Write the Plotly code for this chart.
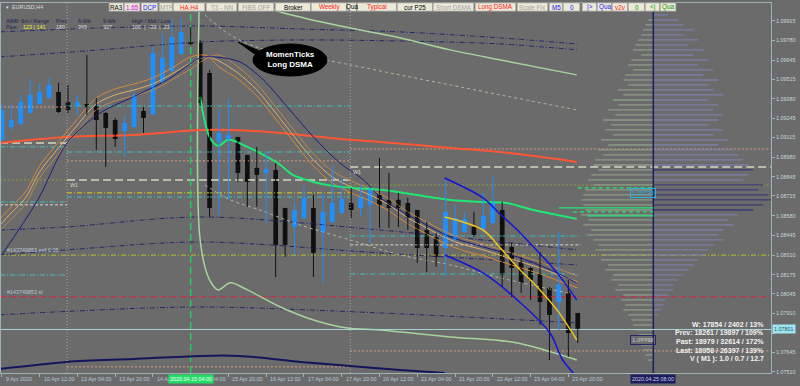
import plotly.graph_objects as go

# ---------------- data ----------------
time_labels = ["9 Apr 2020", "10 Apr 12:00", "13 Apr 04:00", "13 Apr 20:00", "14 Apr 12:00",
               "15 Apr 04:00", "15 Apr 20:00", "16 Apr 12:00", "17 Apr 04:00", "17 Apr 20:00",
               "20 Apr 12:00", "21 Apr 04:00", "21 Apr 20:00", "22 Apr 12:00", "23 Apr 04:00",
               "23 Apr 20:00"]
label_bars = list(range(0, 61, 4))

price_ticks = [1.09915, 1.09780, 1.09645, 1.09515, 1.09380, 1.09245, 1.09115, 1.08980,
               1.08845, 1.08715, 1.08580, 1.08445, 1.08310, 1.08175, 1.08045, 1.07910,
               1.07775, 1.07645, 1.07510]

opens = [1.09099, 1.09187, 1.09208, 1.09283, 1.09345, 1.09386, 1.09427, 1.09358, 1.09331, 1.09345,
         1.09331, 1.09283, 1.09235, 1.09160, 1.09187, 1.09297, 1.09275, 1.09496, 1.09571, 1.09687,
         1.09763, 1.09763, 1.09557, 1.09085, 1.09099, 1.09119, 1.08996, 1.08907, 1.08873, 1.08893,
         1.08633, 1.08503, 1.08564, 1.08633, 1.08469, 1.08537, 1.08599, 1.08667, 1.08633, 1.08654,
         1.08722, 1.08688, 1.08688, 1.08667, 1.08619, 1.08482, 1.08434, 1.08359, 1.08414, 1.08469,
         1.08503, 1.08489, 1.08530, 1.08619, 1.08366, 1.08264, 1.08222, 1.08188, 1.08085, 1.07989,
         1.08051, 1.07914]
highs = [1.09338, 1.09338, 1.09406, 1.09516, 1.09489, 1.09523, 1.09489, 1.09475, 1.09406, 1.09680,
         1.09386, 1.09290, 1.09249, 1.09270, 1.09427, 1.09324, 1.09735, 1.09831, 1.09920, 1.09934,
         1.09872, 1.09783, 1.09578, 1.09304, 1.09386, 1.09119, 1.08996, 1.09051, 1.09016, 1.08941,
         1.08633, 1.08674, 1.08784, 1.08722, 1.08736, 1.08927, 1.08838, 1.08770, 1.08791, 1.08777,
         1.08975, 1.08873, 1.08736, 1.08702, 1.08619, 1.08537, 1.08462, 1.08825, 1.08654, 1.08606,
         1.08606, 1.08736, 1.08845, 1.08674, 1.08393, 1.08298, 1.08229, 1.08332, 1.08092, 1.08469,
         1.08140, 1.07914]
lows = [1.09085, 1.09167, 1.09201, 1.09276, 1.09338, 1.09380, 1.09283, 1.09283, 1.09270, 1.09270,
        1.09030, 1.08914, 1.09051, 1.08982, 1.09181, 1.09146, 1.09265, 1.09489, 1.09564, 1.09680,
        1.09749, 1.09331, 1.08571, 1.08585, 1.08688, 1.08811, 1.08640, 1.08640, 1.08530, 1.08160,
        1.08298, 1.08311, 1.08557, 1.08160, 1.08119, 1.08530, 1.08592, 1.08564, 1.08571, 1.08393,
        1.08496, 1.08496, 1.08503, 1.08482, 1.08257, 1.08195, 1.08229, 1.08160, 1.08400, 1.08462,
        1.08434, 1.08462, 1.08523, 1.08092, 1.08023, 1.08051, 1.08003, 1.07832, 1.07592, 1.07798,
        1.07613, 1.07709]
closes = [1.09304, 1.09235, 1.09358, 1.09406, 1.09427, 1.09475, 1.09290, 1.09304, 1.09358, 1.09324,
          1.09235, 1.09181, 1.09105, 1.09215, 1.09406, 1.09249, 1.09694, 1.09660, 1.09804, 1.09838,
          1.09756, 1.09352, 1.08633, 1.09146, 1.09133, 1.08873, 1.08811, 1.08859, 1.08900, 1.08380,
          1.08380, 1.08619, 1.08701, 1.08325, 1.08606, 1.08667, 1.08695, 1.08619, 1.08708, 1.08770,
          1.08654, 1.08633, 1.08633, 1.08564, 1.08359, 1.08359, 1.08298, 1.08606, 1.08564, 1.08558,
          1.08448, 1.08578, 1.08674, 1.08174, 1.08222, 1.08120, 1.08140, 1.07989, 1.07900, 1.08106,
          1.07777, 1.07801]

# moving-average bundle (Long DSMA family)
bundle_x = [-0.2, 1, 2.5, 4, 6, 8, 10, 12, 14, 16, 18, 20, 21.7, 23, 25, 27, 29, 31, 33, 35, 37,
            39, 41, 43, 45, 47, 49, 51, 53, 55, 57, 59, 61]
ma_fast = [1.08558, 1.08640, 1.08743, 1.08921, 1.09085, 1.09242, 1.09386, 1.09448, 1.09482, 1.09523,
           1.09591, 1.09667, 1.09677, 1.09598, 1.09516, 1.09400, 1.09242, 1.09078, 1.08921, 1.08804,
           1.08736, 1.08681, 1.08613, 1.08524, 1.08455, 1.08387, 1.08339, 1.08305, 1.08263, 1.08222,
           1.08181, 1.08133, 1.08085]
ma_mid = [1.08517, 1.08599, 1.08702, 1.08880, 1.09044, 1.09201, 1.09345, 1.09407, 1.09441, 1.09482,
          1.09550, 1.09626, 1.09667, 1.09639, 1.09557, 1.09441, 1.09283, 1.09119, 1.08962, 1.08845,
          1.08777, 1.08722, 1.08654, 1.08565, 1.08496, 1.08428, 1.08380, 1.08346, 1.08304, 1.08263,
          1.08222, 1.08174, 1.08126]
ma_slow = [1.08476, 1.08558, 1.08661, 1.08839, 1.09003, 1.09160, 1.09304, 1.09366, 1.09400, 1.09441,
           1.09509, 1.09585, 1.09657, 1.09680, 1.09598, 1.09482, 1.09324, 1.09160, 1.09003, 1.08886,
           1.08818, 1.08763, 1.08695, 1.08606, 1.08537, 1.08469, 1.08421, 1.08387, 1.08345, 1.08304,
           1.08263, 1.08215, 1.08167]

navy_ma_x = [-0.02, 3.8, 6.9, 10.4, 13.9, 17.5, 21.0, 22.4, 25.2, 27.7, 30.5, 33.0, 35.8, 38.3,
             40.4, 44.0, 47.5, 51.0, 54.6, 58.1, 60.9]
navy_ma = [1.08311, 1.08688, 1.09078, 1.09283, 1.09393, 1.09509, 1.09660, 1.09667, 1.09633, 1.09509,
           1.09304, 1.09119, 1.08941, 1.08825, 1.08688, 1.08551, 1.08435, 1.08366, 1.08298, 1.08209,
           1.08120]

red_ma_x = [-0.2, 6.9, 13.9, 21.0, 24.5, 29.5, 36.9, 40.05, 47.5, 52.8, 60.9]
red_ma = [1.09078, 1.09119, 1.09133, 1.09167, 1.09167, 1.09146, 1.09099, 1.09085, 1.09044, 1.09016,
          1.08948]

green_ma_x = [21.0, 22.0, 22.9, 24.0, 26.0, 28.1, 29.5, 30.8, 33.0, 35.1, 37.2, 40.4, 44.0, 47.5,
              51.0, 53.5, 56.3, 59.9, 60.9]
green_ma = [1.09393, 1.09119, 1.09058, 1.09099, 1.09051, 1.08982, 1.08927, 1.08859, 1.08811, 1.08784,
            1.08770, 1.08756, 1.08722, 1.08688, 1.08674, 1.08667, 1.08619, 1.08571, 1.08558]

env_up_x = [21.0, 24.0, 27.1, 31.6, 36.9, 42.2, 47.5, 52.8, 60.9]
env_up = [1.10700, 1.10330, 1.10036, 1.09940, 1.09865, 1.09797, 1.09715, 1.09646, 1.09544]
env_lo_x = [20.9, 21.0, 22.0, 22.9, 24.2, 26.0, 29.5, 33.0, 36.6, 40.05, 47.5, 54.6, 59.9, 60.9]
env_lo = [1.10036, 1.08414, 1.08140, 1.08072, 1.08120, 1.08072, 1.07955, 1.07866, 1.07811, 1.07798,
          1.07750, 1.07709, 1.07613, 1.07592]

env_in_up_x = [21.5, 24.2, 27.3, 31.6, 36.9, 42.2, 47.5, 52.8, 60.9]
env_in_up = [1.09954, 1.09817, 1.09728, 1.09680, 1.09612, 1.09543, 1.09475, 1.09407, 1.09304]
env_in_lo_x = [21.5, 24.2, 27.3, 31.6, 36.9, 42.2, 47.5, 52.8, 60.9]
env_in_lo = [1.08791, 1.08688, 1.08619, 1.08516, 1.08414, 1.08311, 1.08243, 1.08154, 1.08037]

reg_x = [46.9, 50.96, 52.8, 54.6, 56.7, 58.8, 60.9]
reg_up = [1.08838, 1.08702, 1.08590, 1.08482, 1.08340, 1.08190, 1.08003]
reg_mid = [1.08571, 1.08482, 1.08359, 1.08229, 1.08092, 1.07935, 1.07729]
reg_lo_x = [46.9, 50.96, 54.6, 58.06, 59.4, 60.5, 61.2]
reg_lo = [1.08311, 1.08188, 1.08003, 1.07777, 1.07592, 1.07503, 1.07420]

navy_dd_x = [-0.2, 6.9, 21.0, 40.05, 60.9]
navy_dd1 = [1.08482, 1.08503, 1.08571, 1.08482, 1.08346]
navy_dd2 = [1.08311, 1.08346, 1.08400, 1.08325, 1.08243]
navy_dd3 = [1.07901, 1.07925, 1.07955, 1.07914, 1.07846]
navy_top_x = [-0.2, 10.4, 21.0, 31.6, 42.2, 52.8, 60.9]
navy_top1 = [1.09838, 1.09865, 1.09879, 1.09858, 1.09838, 1.09797, 1.09756]
navy_top2 = [1.09667, 1.09715, 1.09769, 1.09783, 1.09776, 1.09756, 1.09715]

bottom_curve_x = [-0.2, 6.9, 13.9, 21.0, 25.2, 31.6, 36.9, 42.2, 46.9]
bottom_curve = [1.07531, 1.07579, 1.07599, 1.07620, 1.07620, 1.07579, 1.07551, 1.07524, 1.07503]

week_breaks = [-0.2, 6.9, 36.9, 81.5]
# weekly pivot levels per week segment: (segment index, price, kind)
pivot_levels = [
    (0, 1.09324, "salmon"), (0, 1.09078, "w1"), (0, 1.09051, "cyan"), (0, 1.08825, "olive"),
    (0, 1.08674, "cyan"), (0, 1.08654, "cream"), (0, 1.08174, "cyan"),
    (1, 1.09331, "cyan"), (1, 1.09016, "cyan"), (1, 1.08955, "salmon"), (1, 1.08825, "w1"),
    (1, 1.08736, "yellow"), (1, 1.08708, "cyan"), (1, 1.07545, "salmon"),
    (2, 1.09037, "salmon"), (2, 1.08914, "w1"), (2, 1.08790, "olive"), (2, 1.07654, "salmon"),
]
short_levels = [(1.08441, "cyan"), (1.08380, "cream"), (1.08181, "cyan")]
order_price = 1.08310
sl_price = 1.08025
current_price = 1.07801
signal_bar = 20

proj_levels = [(1.08770, "dash", 61.0), (1.08633, "solid", 59.0), (1.08606, "dash", 60.5),
               (1.08578, "solid", 62.0)]

# volume profile (price levels, volume left = buy side, right = sell side)
profile_anchor = 69
profile_levels = [1.09954, 1.09920, 1.09886, 1.09852, 1.09817, 1.09783, 1.09749, 1.09715, 1.09680,
                  1.09646, 1.09612, 1.09578, 1.09543, 1.09509, 1.09475, 1.09441, 1.09407, 1.09372,
                  1.09338, 1.09304, 1.09270, 1.09235, 1.09201, 1.09167, 1.09133, 1.09099, 1.09064,
                  1.09030, 1.08996, 1.08962, 1.08927, 1.08893, 1.08859, 1.08825, 1.08791, 1.08756,
                  1.08722, 1.08688, 1.08654, 1.08619, 1.08585, 1.08551, 1.08517, 1.08482, 1.08448,
                  1.08414, 1.08380, 1.08346, 1.08311, 1.08277, 1.08243, 1.08209, 1.08174, 1.08140,
                  1.08106, 1.08072, 1.08037, 1.08003, 1.07969, 1.07935, 1.07901, 1.07866, 1.07832,
                  1.07798, 1.07764, 1.07729, 1.07695, 1.07661, 1.07627, 1.07592]
vol_left = [0, 5, 8, 10, 12, 15, 18, 20, 12, 22, 25, 20, 28, 30, 25, 35, 30, 40, 35, 45, 38, 50, 42,
            48, 40, 52, 45, 55, 50, 58, 60, 55, 62, 65, 60, 68, 70, 72, 70, 68, 72, 65, 70, 62, 66,
            60, 55, 58, 50, 52, 45, 48, 40, 42, 35, 38, 30, 32, 28, 30, 25, 22, 20, 18, 15, 14, 12,
            10, 8, 5]
vol_right = [15, 25, 30, 40, 30, 45, 35, 50, 40, 55, 45, 60, 50, 65, 55, 60, 70, 55, 65, 60, 70, 65,
             55, 70, 60, 75, 65, 80, 85, 90, 95, 100, 95, 90, 110, 105, 115, 118, 110, 100, 85, 75,
             80, 70, 65, 70, 60, 55, 50, 45, 40, 35, 30, 25, 20, 20, 15, 12, 10, 8, 5, 0, 0, 0, 0,
             0, 0, 0, 0, 0]
VOL_SCALE = 1 / 9.44

info_bottom = ["W: 17854 / 2402 / 13%", "Prev: 18261 / 19897 / 109%",
               "Past: 18979 / 32614 / 172%", "Last: 18958 / 26397 / 139%",
               "V ( M1 ): 1.0 / 0.7 / 12.7"]

buttons = [("RA3", 109, 124, "#000000"), ("1.65", 124, 140, "#e000e0"), ("DCP", 141, 158, "#2020ff"),
           ("MTF", 159, 173, "#a0a0a0"), ("HA H4", 173, 205, "#ff2020"), ("T3 - NN", 206, 237, "#a0a0a0"),
           ("FIBS OFF", 238, 274, "#a0a0a0"), ("Broker", 275, 311, "#000000"),
           ("Weekly", 311, 347, "#ff2020"), ("Qua", 347, 357, "#000000"), ("Typical", 357, 397, "#ff2020"),
           ("cur P25", 397, 433, "#000000"), ("Short DSMA", 433, 474, "#a0a0a0"),
           ("Long DSMA", 475, 516, "#ff2020"), ("Scale Fix", 517, 548, "#a0a0a0"),
           ("M5", 549, 563, "#2020ff"), ("0", 563, 580, "#2020ff"), ("|>", 582, 597, "#2020ff"),
           ("Qua", 597, 612, "#2020ff"), ("v2v", 612, 628, "#ff2020"), ("0", 628, 645, "#00a000"),
           ("<|", 645, 660, "#00a000"), ("Qua", 660, 676, "#00a000")]

# ---------------- figure ----------------
BG = "#6b6b6b"
FONT = "Liberation Sans, Arial, sans-serif"
X0, X1 = -0.095, 81.47
Y0, Y1 = 1.07503, 1.10036
ML, MR, MT, MB = 1, 29, 3, 13
PW, PH = 800 - ML - MR, 386 - MT - MB


def pxp(x):
    return (x - ML) / PW


def pyp(y):
    return (MT + PH - y) / PH


fig = go.Figure()


def add_line(xs, ys, color, width=1.0, dash="solid", shape="linear"):
    fig.add_trace(go.Scatter(x=xs, y=ys, mode="lines", hoverinfo="skip",
                             line=dict(color=color, width=width, dash=dash, shape=shape,
                                       smoothing=0.9)))


DASHDOT = "5px,2px,1px,2px"
DOT = "2px,2px"
LEVEL_STYLE = {"salmon": ("#d99a80", DOT, 1), "cyan": ("#3fc0c0", DASHDOT, 1),
               "olive": ("#8aa040", DOT, 1), "cream": ("#d8d8c8", "3px,2px", 1),
               "w1": ("#d6d6c0", "8px,4px", 1.5), "yellow": ("#d8d020", DASHDOT, 1)}

# week separators
for xb in week_breaks[1:3]:
    add_line([xb, xb], [Y0, Y1], "#a8a8a8", 1, "1px,2px")

# pivots
for seg, p, kind in pivot_levels:
    c, d, w = LEVEL_STYLE[kind]
    add_line([week_breaks[seg], week_breaks[seg + 1]], [p, p], c, w, d)
for p, kind in short_levels:
    c, d, w = LEVEL_STYLE[kind]
    add_line([week_breaks[2], 61.3], [p, p], c, w, d)
add_line([X0, X1], [order_price, order_price], "#a8b040", 1.2, DASHDOT)
add_line([X0, X1], [sl_price, sl_price], "#e0203c", 1.2, DASHDOT)

# navy dash-dot channels
for arr in (navy_dd1, navy_dd2, navy_dd3):
    add_line(navy_dd_x, arr, "#26266a", 1, DASHDOT, "spline")
for arr in (navy_top1, navy_top2):
    add_line(navy_top_x, arr, "#26266a", 1, DASHDOT, "spline")

# envelopes
add_line(env_in_up_x, env_in_up, "#a8bc9c", 1, "3px,3px", "spline")
add_line(env_in_lo_x, env_in_lo, "#a8bc9c", 1, "3px,3px", "spline")
add_line(env_up_x, env_up, "#a8d49c", 1.5, "solid", "spline")
add_line(env_lo_x, env_lo, "#a8d49c", 1.5, "solid", "spline")

# volume profile
for p, vl, vr in zip(profile_levels, vol_left, vol_right):
    if vl > 0:
        add_line([profile_anchor - vl * VOL_SCALE, profile_anchor], [p, p], "#8d9c86", 1.3)
    if vr > 0:
        add_line([profile_anchor, profile_anchor + vr * VOL_SCALE], [p, p],
                 "#3a3a78" if vr >= 100 else "#7c7ca8", 1.3)
add_line([profile_anchor, profile_anchor], [Y0, Y1], "#1e1e64", 1.5)

# current price line
add_line([X0, X1], [current_price, current_price], "#a8d4d4", 1)

# signal vertical
add_line([signal_bar, signal_bar], [Y0, Y1], "#10e060", 1.2, "7px,4px")

# bottom curve
add_line(bottom_curve_x, bottom_curve, "#14145a", 2, "solid", "spline")

# red MA
add_line(red_ma_x, red_ma, "#ff5634", 2, "solid", "spline")

# MA bundle
add_line(bundle_x, ma_slow, "#c08850", 1, "solid", "spline")
add_line(bundle_x, ma_mid, "#e0b070", 1, "solid", "spline")
add_line(bundle_x, ma_fast, "#d88a3a", 1, "solid", "spline")
add_line(navy_ma_x, navy_ma, "#1c1c80", 1, "solid", "spline")

# green MA
add_line(green_ma_x, green_ma, "#1ee873", 2, "solid", "spline")
for p, d, xs in proj_levels:
    add_line([xs, profile_anchor], [p, p], "#1ee873", 1.2, "4px,3px" if d == "dash" else "solid")

# candles
bars = list(range(len(opens)))
for up in (True, False):
    idx = [i for i in bars if (closes[i] >= opens[i]) == up]
    col = "#1e90ff" if up else "#101010"
    wx, wy = [], []
    for i in idx:
        wx += [i, i, None]
        wy += [lows[i], highs[i], None]
    fig.add_trace(go.Scatter(x=wx, y=wy, mode="lines", line=dict(color=col, width=1),
                             hoverinfo="skip"))
    fig.add_trace(go.Bar(x=idx, y=[abs(closes[i] - opens[i]) for i in idx],
                         base=[min(opens[i], closes[i]) for i in idx], width=0.5,
                         marker=dict(color=col, line=dict(width=0)), hoverinfo="skip"))

# regression channel
add_line(reg_x, reg_up, "#1414d8", 1.5, "solid", "spline")
add_line(reg_lo_x, reg_lo, "#1414d8", 1.5, "solid", "spline")
add_line(reg_x, reg_mid, "#f0c418", 1.5, "solid", "spline")

ann = []
shapes = []
SMALL = 5.4

# time labels
for b, t in zip(label_bars, time_labels):
    ann.append(dict(x=b + 0.2, y=pyp(379), xref="x", yref="paper", text=t, showarrow=False,
                    xanchor="left", yanchor="middle", font=dict(size=SMALL, color="#b4cad6", family=FONT)))

# price box
ann.append(dict(x=pxp(772), y=current_price, xref="paper", yref="y", text="1.07801", showarrow=False,
                xanchor="left", yanchor="middle", bgcolor="#9fe6f4", borderpad=1,
                font=dict(size=SMALL, color="#2a5a6a", family=FONT)))
# time boxes
ann.append(dict(x=signal_bar, y=pyp(379), xref="x", yref="paper", text="2020.04.15 04:00",
                showarrow=False, xanchor="center", yanchor="middle", bgcolor="#22dd66", borderpad=1,
                font=dict(size=SMALL, color="#ffffff", family=FONT)))
ann.append(dict(x=profile_anchor, y=pyp(379), xref="x", yref="paper", text="2020.04.25 08:00",
                showarrow=False, xanchor="center", yanchor="middle", bgcolor="#1c1c5c", borderpad=1,
                font=dict(size=SMALL, color="#c8d0e8", family=FONT)))
ann.append(dict(x=pxp(630), y=1.07732, xref="paper", yref="y", text="1.07732", showarrow=False,
                xanchor="left", yanchor="middle", bordercolor="#26266a", borderwidth=1, borderpad=1,
                font=dict(size=6, color="#c0c8d8", family=FONT)))
ann.append(dict(x=pxp(630), y=1.08738, xref="paper", yref="y", text="1.08738", showarrow=False,
                xanchor="left", yanchor="middle", bordercolor="#20b4e0", borderwidth=1, borderpad=1,
                font=dict(size=6, color="#20b4e0", family=FONT)))

# header texts
ann.append(dict(x=pxp(4), y=pyp(7), xref="paper", yref="paper", text="▾  EURUSD,H4", showarrow=False,
                xanchor="left", yanchor="middle", font=dict(size=5.4, color="#d6dede", family=FONT)))
row1 = [("AWR: 6m / Range", 4), ("Prev", 54), ("6-Wk", 76), ("9-Wk", 101), ("High / Mid / Low", 130)]
for t, x in row1:
    ann.append(dict(x=pxp(x), y=pyp(21), xref="paper", yref="paper", text=t, showarrow=False,
                    xanchor="left", yanchor="middle", font=dict(size=5.4, color="#22224a", family=FONT)))
row2 = [("Pips:", 4, "#22224a"), ("123 | 141", 21, "#f0f040"), ("180", 54, "#d8d8d8"),
        ("365", 76, "#d8d8d8"), ("327", 101, "#d8d8d8"), ("100  |  -39  |  23", 130, "#d8d8d8")]
for t, x, c in row2:
    ann.append(dict(x=pxp(x), y=pyp(27), xref="paper", yref="paper", text=t, showarrow=False,
                    xanchor="left", yanchor="middle", font=dict(size=5.4, color=c, family=FONT)))

# order labels
ann.append(dict(x=pxp(5), y=order_price, xref="paper", yref="y", text="#143749853 sell 0.05",
                showarrow=False, xanchor="left", yanchor="bottom",
                font=dict(size=5.4, color="#b8c8d4", family=FONT)))
ann.append(dict(x=pxp(5), y=sl_price, xref="paper", yref="y", text="#143749853 sl",
                showarrow=False, xanchor="left", yanchor="bottom",
                font=dict(size=5.4, color="#b8c8d4", family=FONT)))
ann.append(dict(x=week_breaks[1] + 0.1, y=1.08825, xref="x", yref="y", text="W1", showarrow=False,
                xanchor="left", yanchor="top", font=dict(size=5.4, color="#d6d6c0", family=FONT)))
ann.append(dict(x=week_breaks[2] + 0.1, y=1.08914, xref="x", yref="y", text="W1", showarrow=False,
                xanchor="left", yanchor="top", font=dict(size=5.4, color="#d6d6c0", family=FONT)))

# bottom-right stats
for k, t in enumerate(info_bottom):
    ann.append(dict(x=pxp(766), y=pyp(324 + 8.8 * k), xref="paper", yref="paper", text="<b>" + t + "</b>",
                    showarrow=False, xanchor="right", yanchor="middle",
                    font=dict(size=7, color="#f2f2f2", family=FONT)))

# buttons
for t, x0, x1, c in buttons:
    shapes.append(dict(type="rect", xref="paper", yref="paper", x0=pxp(x0), x1=pxp(x1),
                       y0=pyp(11.3), y1=pyp(2.7), fillcolor="#ece9d8",
                       line=dict(color="#8c8c8c", width=1)))
    ann.append(dict(x=pxp((x0 + x1) / 2), y=pyp(7.2), xref="paper", yref="paper", text=t,
                    showarrow=False, xanchor="center", yanchor="middle",
                    font=dict(size=6.3, color=c, family=FONT)))

# speech bubble
shapes.append(dict(type="path", xref="paper", yref="paper",
                   path="M %f %f L %f %f L %f %f Z" % (pxp(262), pyp(52), pxp(238), pyp(42),
                                                      pxp(266), pyp(62)),
                   fillcolor="#000000", line=dict(color="#000000", width=1)))
shapes.append(dict(type="circle", xref="paper", yref="paper", x0=pxp(253), x1=pxp(327),
                   y0=pyp(76), y1=pyp(44), fillcolor="#000000", line=dict(color="#000000", width=1)))
ann.append(dict(x=pxp(290), y=pyp(60), xref="paper", yref="paper",
                text="<b>MomenTicks</b><br><b>Long DSMA</b>", showarrow=False,
                xanchor="center", yanchor="middle",
                font=dict(size=8, color="#ffffff", family=FONT)))

fig.update_layout(width=800, height=386, margin=dict(l=ML, r=MR, t=MT, b=MB),
                  paper_bgcolor=BG, plot_bgcolor=BG, showlegend=False, barmode="overlay",
                  annotations=ann, shapes=shapes)
fig.update_xaxes(range=[X0, X1], showgrid=False, zeroline=False, showline=True,
                 linecolor="#9db4b4", mirror=True, tickvals=label_bars, ticks="outside",
                 ticklen=3, tickcolor="#9db4b4", showticklabels=False, fixedrange=True)
fig.update_yaxes(range=[Y0, Y1], side="right", showgrid=False, zeroline=False, showline=True,
                 linecolor="#9db4b4", mirror=True, tickvals=price_ticks,
                 ticktext=["" if v == 1.07775 else "%.5f" % v for v in price_ticks],
                 ticks="outside", ticklen=3,
                 tickcolor="#9db4b4", tickfont=dict(size=SMALL, color="#c4d8d8", family=FONT),
                 fixedrange=True)

fig.write_html("out.html")
